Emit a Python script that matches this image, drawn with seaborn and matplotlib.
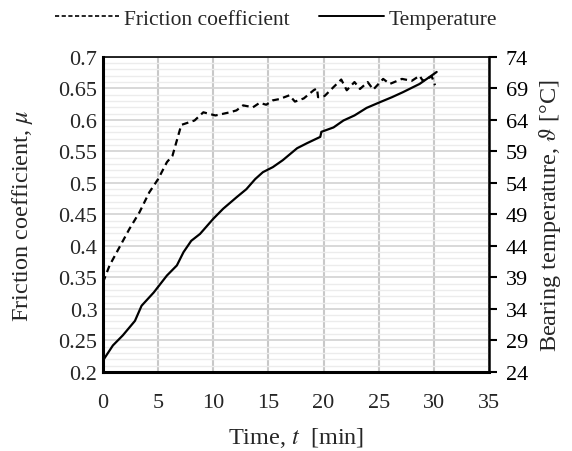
import numpy as np
import pandas as pd
import matplotlib
matplotlib.use("Agg")
import matplotlib.pyplot as plt
from matplotlib.lines import Line2D
from matplotlib.ticker import MultipleLocator
import seaborn as sns

# ---- data ----
fric_time = [0, 0.6, 1.5, 2.4, 3.3, 4.2, 5.0, 5.8, 6.3, 7.1, 8.3, 9.1, 10.2, 11.5,
             12.1, 12.7, 13.6, 14.2, 14.8, 15.4, 16.0, 16.9, 17.4, 18.2, 19.1, 19.4,
             19.5, 20.1, 20.9, 21.6, 22.1, 22.8, 23.3, 24.0, 24.5, 25.4, 26.0, 27.1,
             28.0, 28.7, 29.0, 29.8, 30.1]
fric_mu = [0.342, 0.369, 0.398, 0.427, 0.453, 0.485, 0.506, 0.533, 0.543, 0.592,
           0.599, 0.612, 0.607, 0.612, 0.615, 0.623, 0.620, 0.627, 0.624, 0.631,
           0.633, 0.639, 0.629, 0.634, 0.647, 0.650, 0.636, 0.638, 0.652, 0.664,
           0.647, 0.660, 0.649, 0.660, 0.648, 0.665, 0.657, 0.665, 0.662, 0.670,
           0.662, 0.669, 0.655]
temp_time = [0, 0.9, 1.8, 2.9, 3.5, 4.6, 5.8, 6.7, 7.3, 8.0, 8.8, 10.0, 10.9, 12.1,
             13.0, 13.8, 14.5, 15.4, 16.3, 17.6, 18.5, 19.7, 19.8, 20.9, 21.8, 22.8,
             23.9, 25.1, 26.2, 27.2, 28.7, 30.25]
temp_val = [25.8, 28.2, 29.8, 32.1, 34.5, 36.6, 39.3, 40.9, 43.0, 44.8, 45.9, 48.3,
            49.9, 51.7, 53.0, 54.6, 55.7, 56.5, 57.6, 59.5, 60.3, 61.3, 62.1, 62.8,
            63.9, 64.7, 65.9, 66.8, 67.6, 68.4, 69.7, 71.6]
x_ticks = [0, 5, 10, 15, 20, 25, 30, 35]
left_ticks = [0.2, 0.25, 0.3, 0.35, 0.4, 0.45, 0.5, 0.55, 0.6, 0.65, 0.7]
right_ticks = [24, 29, 34, 39, 44, 49, 54, 59, 64, 69, 74]
legend_labels = ["Friction coefficient", "Temperature"]

df_f = pd.DataFrame({"t": fric_time, "mu": fric_mu})
df_t = pd.DataFrame({"t": temp_time, "T": temp_val})

sns.set_style("white")
plt.rcParams["font.family"] = ["Liberation Serif", "DejaVu Serif"]
plt.rcParams["mathtext.fontset"] = "stix"
FS = 16
LFS = 17.5

fig = plt.figure(figsize=(5.72, 4.52), dpi=100)
ax = fig.add_axes([0.180, 0.175, 0.675, 0.697])
ax2 = ax.twinx()

dash = (0, (3, 2))
sns.lineplot(data=df_f, x="t", y="mu", ax=ax, color="black", lw=1.6, zorder=3)
ax.lines[-1].set_linestyle(dash)
sns.lineplot(data=df_t, x="t", y="T", ax=ax2, color="black", lw=1.6, zorder=3)

ax.set_xlim(0, 35)
ax.set_ylim(0.2, 0.7)
ax2.set_ylim(24, 74)
ax.set_xticks(x_ticks)
ax.set_yticks(left_ticks)
ax.set_yticklabels([f"{v:g}" for v in left_ticks], fontsize=FS)
ax.set_xticklabels([str(v) for v in x_ticks], fontsize=FS)
ax2.set_yticks(right_ticks)
ax2.set_yticklabels([str(v) for v in right_ticks], fontsize=FS)

ax.yaxis.set_minor_locator(MultipleLocator(0.01))
ax.grid(which="minor", axis="y", color="#ececec", lw=1.0, zorder=0)
ax.grid(which="major", axis="y", color="#d6d6d6", lw=1.3, zorder=0)
ax.grid(which="major", axis="x", color="#c8c8c8", lw=1.5, zorder=0)
ax.set_axisbelow(True)

ax.tick_params(axis="both", which="both", length=0)
ax.tick_params(axis="y", pad=4)
ax.tick_params(axis="x", pad=15)
ax2.tick_params(axis="y", which="major", length=6, width=1.5, direction="out",
                pad=6, colors="black")
ax2.tick_params(axis="y", which="minor", length=0)

for s in ["left", "bottom"]:
    ax.spines[s].set_linewidth(2.2)
    ax.spines[s].set_color("black")
ax.spines["top"].set_linewidth(1.2)
ax.spines["top"].set_color("black")
ax.spines["right"].set_visible(False)
ax2.spines["right"].set_linewidth(1.8)
ax2.spines["right"].set_color("black")
for s in ["left", "bottom", "top"]:
    ax2.spines[s].set_visible(False)

ax.set_xlabel("Time, $t$  [min]", fontsize=LFS)
ax.set_ylabel("Friction coefficient, $\\mu$", fontsize=LFS)
ax2.set_ylabel("Bearing temperature, $\\vartheta$ [°C]", fontsize=LFS)
ax.xaxis.set_label_coords(0.5, -0.17)
ax.yaxis.set_label_coords(-0.175, 0.5)
ax2.yaxis.set_label_coords(1.125, 0.5)

handles = [Line2D([], [], color="black", lw=1.2, linestyle=(0, (2.5, 1.5))),
           Line2D([], [], color="black", lw=1.4)]
fig.legend(handles, legend_labels, loc="upper center", bbox_to_anchor=(0.482, 1.022),
           ncol=2, frameon=False, fontsize=15.5, handlelength=3.0,
           handletextpad=0.2, columnspacing=1.4)

fig.savefig("out.png", dpi=100)
